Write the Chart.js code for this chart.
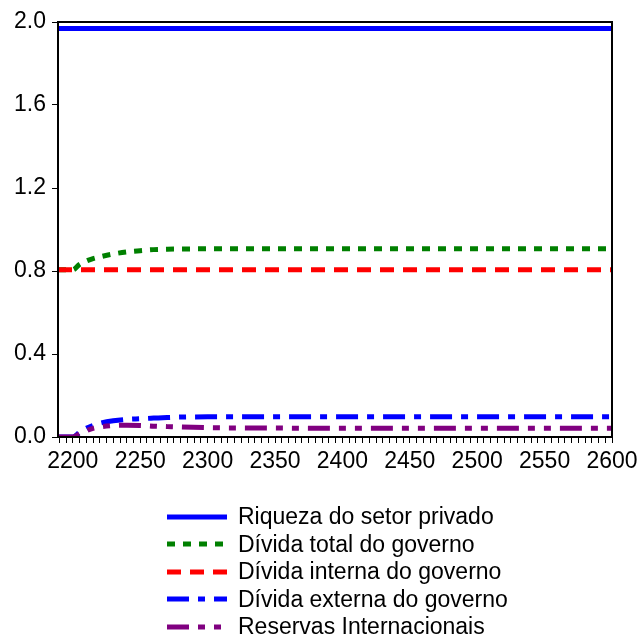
<!DOCTYPE html>
<html>
<head>
<meta charset="utf-8">
<script src="https://cdn.jsdelivr.net/npm/chart.js@4.4.1/dist/chart.umd.min.js"></script>
<style>
    html, body { margin: 0; padding: 0; background: #fff; }
    #wrap { position: relative; width: 639px; height: 639px; }
    #chart { position: absolute; left: 0; top: 0; }
    #legend { position: absolute; left: 167px; top: 503px; font-family: "Liberation Sans", Arial, sans-serif; font-size: 23px; color: #000; }
    .row { height: 27.5px; display: flex; align-items: center; white-space: nowrap; }
    .row canvas { margin-right: 11px; }
</style>
</head>
<body>
<div id="wrap">
    <canvas id="chart" width="639" height="480"></canvas>
    <div id="legend"></div>
</div>
<script>
var years = [2189, 2195, 2200, 2205, 2210, 2215, 2220, 2230, 2240, 2250, 2260, 2270, 2280, 2300, 2350, 2400, 2450, 2500, 2550, 2600];

var riqueza  = [1.969, 1.969, 1.969, 1.969, 1.969, 1.969, 1.969, 1.969, 1.969, 1.969, 1.969, 1.969, 1.969, 1.969, 1.969, 1.969, 1.969, 1.969, 1.969, 1.969];
var dividaTotal = [0.806, 0.806, 0.806, 0.832, 0.848, 0.86, 0.868, 0.882, 0.892, 0.898, 0.903, 0.905, 0.906, 0.907, 0.907, 0.907, 0.907, 0.907, 0.907, 0.907];
var dividaInterna = [0.806, 0.806, 0.806, 0.806, 0.806, 0.806, 0.806, 0.806, 0.806, 0.806, 0.806, 0.806, 0.806, 0.806, 0.806, 0.806, 0.806, 0.806, 0.806, 0.806];
var dividaExterna = [0.0, 0.0, 0.0, 0.022, 0.042, 0.056, 0.066, 0.078, 0.085, 0.088, 0.091, 0.094, 0.096, 0.097, 0.097, 0.097, 0.097, 0.097, 0.097, 0.097];
var reservas = [0.0, 0.0, 0.0, 0.015, 0.03, 0.042, 0.048, 0.055, 0.057, 0.056, 0.052, 0.05, 0.048, 0.045, 0.043, 0.042, 0.042, 0.042, 0.042, 0.042];

var seriesLabels = ["Riqueza do setor privado", "Dívida total do governo", "Dívida interna do governo", "Dívida externa do governo", "Reservas Internacionais"];
var seriesValues = [riqueza, dividaTotal, dividaInterna, dividaExterna, reservas];
var seriesColors = ["#0000ff", "#008000", "#ff0000", "#0000ff", "#800080"];
var seriesDashes = [[], [8, 8], [14, 9], [22, 9, 7, 9], [22, 9, 7, 9, 7, 9]];

var xTicks = [2200, 2250, 2300, 2350, 2400, 2450, 2500, 2550, 2600];
var yTicks = [0.0, 0.4, 0.8, 1.2, 1.6, 2.0];

var fontFamily = '"Liberation Sans", Arial, sans-serif';

function toPoints(values) {
    return values.map(function (v, i) { return { x: years[i], y: v }; });
}

var datasets = seriesLabels.map(function (label, i) {
    return {
        label: label,
        data: toPoints(seriesValues[i]),
        borderColor: seriesColors[i],
        borderWidth: 5,
        borderDash: seriesDashes[i],
        borderCapStyle: 'butt',
        pointRadius: 0,
        cubicInterpolationMode: 'monotone',
        fill: false,
        order: 4 - i
    };
});

// frame around the plot area
var frame = {
    id: 'frame',
    afterDraw: function (chart) {
        var a = chart.chartArea;
        var ctx = chart.ctx;
        ctx.save();
        ctx.strokeStyle = '#000';
        ctx.lineWidth = 2;
        ctx.strokeRect(a.left, a.top, a.right - a.left, a.bottom - a.top);
        ctx.restore();
    }
};

var chart = new Chart(document.getElementById('chart').getContext('2d'), {
    type: 'line',
    data: { datasets: datasets },
    plugins: [frame],
    options: {
        responsive: false,
        animation: false,
        layout: { padding: { top: 22, right: 27, left: 0, bottom: 0 } },
        plugins: { legend: { display: false }, tooltip: { enabled: false } },
        scales: {
            x: {
                type: 'linear',
                min: 2189,
                max: 2600,
                afterFit: function (s) { s.height = 43; s.paddingRight = 0; s.paddingLeft = 0; },
                border: { display: true, color: '#000', width: 2 },
                grid: { display: true, drawOnChartArea: false, drawTicks: true, tickLength: 6, color: '#000', tickWidth: 1 },
                ticks: {
                    stepSize: 5,
                    autoSkip: false,
                    includeBounds: false,
                    maxRotation: 0,
                    padding: 5,
                    color: '#000',
                    font: { family: fontFamily, size: 23 },
                    callback: function (v) { return xTicks.indexOf(v) >= 0 ? String(v) : ''; }
                }
            },
            y: {
                min: 0,
                max: 2.0,
                afterFit: function (s) { s.width = 58; s.paddingTop = 0; s.paddingBottom = 0; },
                afterBuildTicks: function (s) { s.ticks = yTicks.map(function (v) { return { value: v }; }); },
                border: { display: true, color: '#000', width: 2 },
                grid: { display: true, drawOnChartArea: false, drawTicks: true, tickLength: 6, color: '#000' },
                ticks: {
                    padding: 6,
                    color: '#000',
                    font: { family: fontFamily, size: 23 },
                    callback: function (v) { return v.toFixed(1); }
                }
            }
        }
    }
});

// legend below the chart
var legend = document.getElementById('legend');
seriesLabels.forEach(function (label, i) {
    var row = document.createElement('div');
    row.className = 'row';
    var c = document.createElement('canvas');
    c.width = 60;
    c.height = 10;
    var ctx = c.getContext('2d');
    ctx.strokeStyle = seriesColors[i];
    ctx.lineWidth = 5;
    ctx.setLineDash(seriesDashes[i]);
    ctx.beginPath();
    ctx.moveTo(0, 5);
    ctx.lineTo(60, 5);
    ctx.stroke();
    var span = document.createElement('span');
    span.textContent = label;
    row.appendChild(c);
    row.appendChild(span);
    legend.appendChild(row);
});
</script>
</body>
</html>
